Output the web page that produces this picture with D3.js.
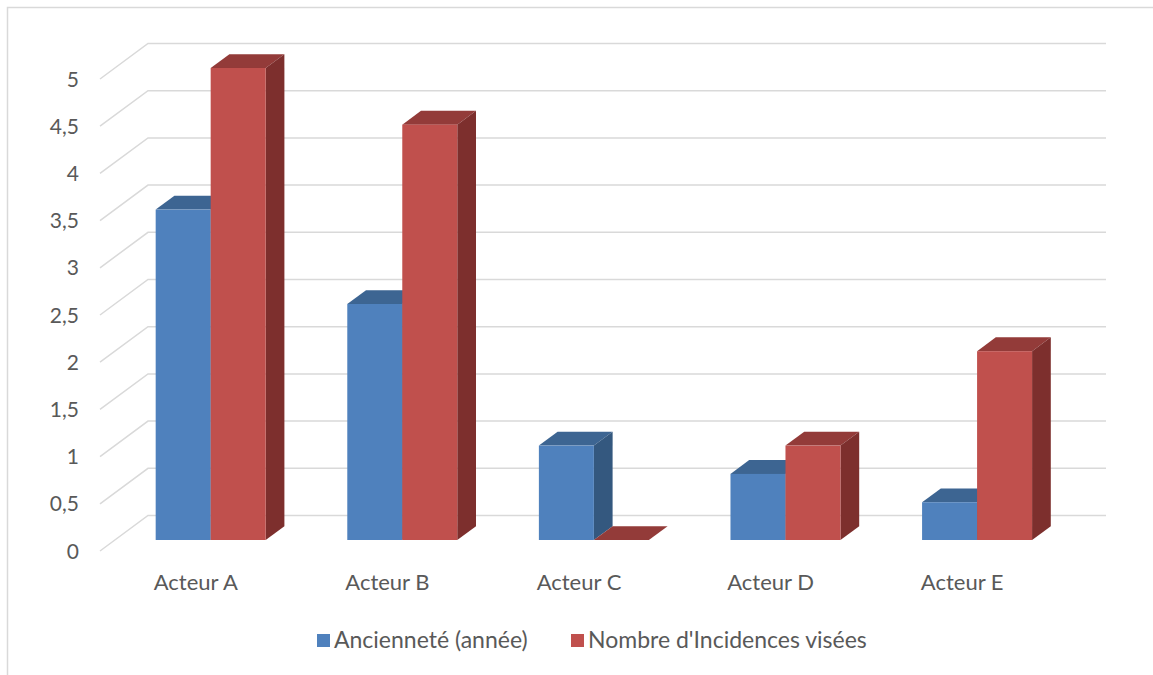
<!DOCTYPE html>
<html>
<head>
<meta charset="utf-8">
<script src="https://cdn.jsdelivr.net/npm/d3@7"></script>
<style>
  body { margin: 0; background: #fff; }
  text { font-family: Lato, "Open Sans", sans-serif; fill: #595959; }
</style>
</head>
<body>
<svg width="1153" height="675"></svg>
<script>
const categories = ['Acteur A', 'Acteur B', 'Acteur C', 'Acteur D', 'Acteur E'];
const seriesNames = ['Ancienneté (année)', "Nombre d'Incidences visées"];
const anciennete = [3.5, 2.5, 1, 0.7, 0.4];
const incidences = [5, 4.4, 0, 1, 2];
const tickValues = [0, 0.5, 1, 1.5, 2, 2.5, 3, 3.5, 4, 4.5, 5];
const tickLabels = ['0', '0,5', '1', '1,5', '2', '2,5', '3', '3,5', '4', '4,5', '5'];

const colors = [
  { front: '#4f81bd', top: '#3d6592', side: '#34587f' },
  { front: '#c0504d', top: '#933b39', side: '#7d2f2d' }
];

const svg = d3.select('svg');

// chart border
svg.append('rect')
  .attr('x', 7.5).attr('y', 7.5)
  .attr('width', 1200).attr('height', 700)
  .attr('fill', 'none')
  .attr('stroke', '#d9d9d9')
  .attr('stroke-width', 1.5);

const x = d3.scaleBand().domain(categories).range([100, 1058]);
const y = d3.scaleLinear().domain([0, 5]).range([551, 79]);

// oblique depth: z=0 front of floor, z=1 back wall
const depthX = 48, depthY = -35.5;
const px = (xv, z) => xv + z * depthX;
const py = (yv, z) => yv + z * depthY;
const z0 = 0.31, z1 = 0.70;
const barW = 55;

const g = svg.append('g');

// gridlines: diagonal on the side wall + horizontal on back wall
tickValues.forEach((v, i) => {
  const yv = y(v);
  g.append('polyline')
    .attr('points', [[px(100, 0), py(yv, 0)], [px(100, 1), py(yv, 1)], [px(1058, 1), py(yv, 1)]].map(p => p.join(',')).join(' '))
    .attr('fill', 'none')
    .attr('stroke', '#d9d9d9')
    .attr('stroke-width', 1.5);
  g.append('text')
    .attr('x', 79)
    .attr('y', yv)
    .attr('dy', '0.36em')
    .attr('text-anchor', 'end')
    .style('font-size', '21px')
    .text(tickLabels[i]);
});

// bars, left to right so the right sides get hidden properly
const bars = [];
categories.forEach((c, i) => {
  const center = x(c) + x.bandwidth() / 2;
  bars.push({ x0: center - barW, v: anciennete[i], s: 0 });
  bars.push({ x0: center, v: incidences[i], s: 1 });
});

const poly = pts => pts.map(p => p.join(',')).join(' ');

bars.forEach(b => {
  const xl = b.x0, xr = b.x0 + barW;
  const yt = y(b.v), yb = y(0);
  const col = colors[b.s];
  const bg = g.append('g');
  // top
  bg.append('polygon')
    .attr('points', poly([[px(xl, z0), py(yt, z0)], [px(xr, z0), py(yt, z0)], [px(xr, z1), py(yt, z1)], [px(xl, z1), py(yt, z1)]]))
    .attr('fill', col.top);
  // right side
  if (b.v > 0) {
    bg.append('polygon')
      .attr('points', poly([[px(xr, z0), py(yt, z0)], [px(xr, z1), py(yt, z1)], [px(xr, z1), py(yb, z1)], [px(xr, z0), py(yb, z0)]]))
      .attr('fill', col.side);
    // front
    bg.append('rect')
      .attr('x', px(xl, z0))
      .attr('y', py(yt, z0))
      .attr('width', barW)
      .attr('height', yb - yt)
      .attr('fill', col.front);
  }
});

// category labels
g.selectAll('.cat').data(categories).enter().append('text')
  .attr('class', 'cat')
  .attr('x', d => x(d) + x.bandwidth() / 2)
  .attr('y', 590)
  .attr('text-anchor', 'middle')
  .style('font-size', '22px')
  .text(d => d);

// legend
const legendX = [317, 571];
seriesNames.forEach((name, i) => {
  svg.append('rect')
    .attr('x', legendX[i]).attr('y', 634)
    .attr('width', 13).attr('height', 13)
    .attr('fill', colors[i].front);
  svg.append('text')
    .attr('x', legendX[i] + 17)
    .attr('y', 648)
    .style('font-size', '23px')
    .text(name);
});
</script>
</body>
</html>
